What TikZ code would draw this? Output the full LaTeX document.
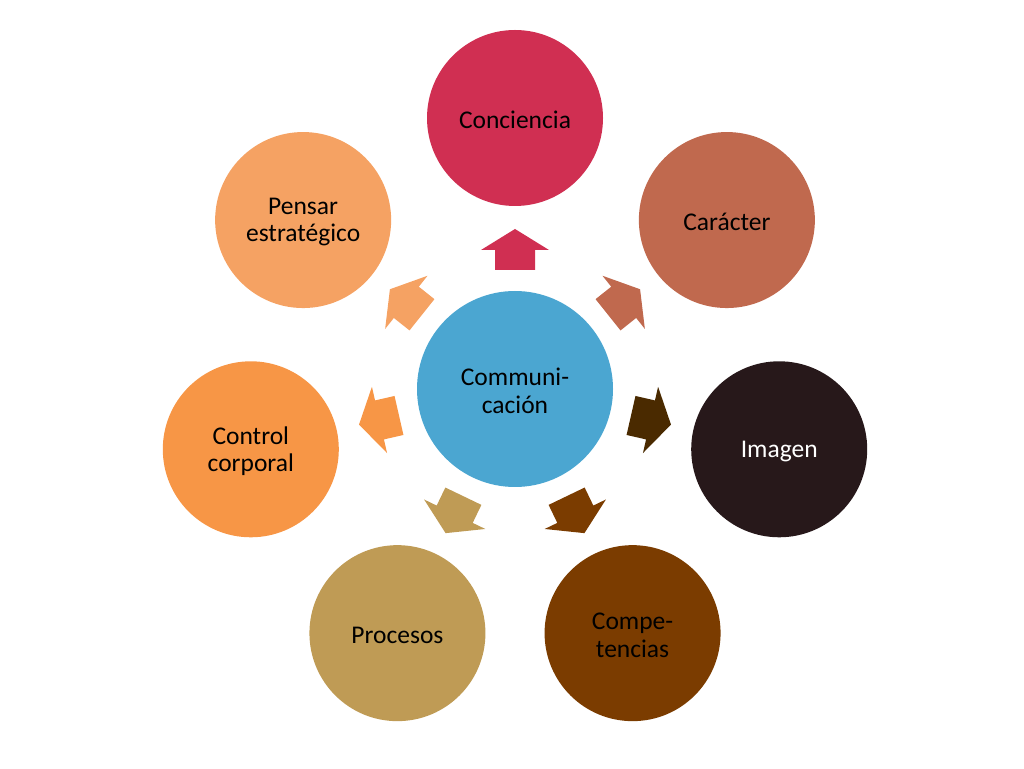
\documentclass[tikz,border=0pt]{standalone}
\usepackage{fontspec}
\setmainfont{Carlito}
\usetikzlibrary{calc}
\definecolor{cCon}{RGB}{208,47,82}
\definecolor{cCar}{RGB}{192,105,78}
\definecolor{cIma}{RGB}{39,24,26}
\definecolor{cImaA}{RGB}{74,42,0}
\definecolor{cCom}{RGB}{123,60,0}
\definecolor{cPro}{RGB}{191,155,85}
\definecolor{cCtl}{RGB}{247,150,70}
\definecolor{cPen}{RGB}{245,162,99}
\definecolor{cCen}{RGB}{75,166,209}
\begin{document}
\begin{tikzpicture}[x=1pt,y=1pt,
  bub/.style={circle,minimum size=176pt,inner sep=0pt},
  ctr/.style={circle,minimum size=196pt,inner sep=0pt,fill=cCen},
  lbl/.style={inner sep=0pt,align=center,font=\fontsize{25.5}{27.5}\selectfont,text=black}]
\useasboundingbox (0,0) rectangle (1024,768);
\coordinate (C) at (515,379);
\node[ctr] (center) at (C) {};
\node[bub,fill=cCon] (n1) at ($(C)+(90:271)$) {};
\node[bub,fill=cCar] (n2) at ($(C)+(38.571:271)$) {};
\node[bub,fill=cIma] (n3) at ($(C)+(-12.857:271)$) {};
\node[bub,fill=cCom] (n4) at ($(C)+(-64.286:271)$) {};
\node[bub,fill=cPro] (n5) at ($(C)+(-115.714:271)$) {};
\node[bub,fill=cCtl] (n6) at ($(C)+(-167.143:271)$) {};
\node[bub,fill=cPen] (n7) at ($(C)+(141.429:271)$) {};
\node[lbl] (t0) at ([yshift=-2pt]center.center) {Communi-\\cación};
\node[lbl] (t1) at ([yshift=-2pt]n1.center) {Conciencia};
\node[lbl] (t2) at ([yshift=-2pt]n2.center) {Carácter};
\node[lbl,text=white] (t3) at ([yshift=-2pt]n3.center) {Imagen};
\node[lbl] (t4) at ([yshift=-2pt]n4.center) {Compe-\\tencias};
\node[lbl] (t5) at ([yshift=-2pt]n5.center) {Procesos};
\node[lbl] (t6) at ([yshift=-2pt]n6.center) {Control\\corporal};
\node[lbl] (t7) at ([yshift=-2pt]n7.center) {Pensar\\estratégico};
\foreach \a/\c in {90/cCon,38.571/cCar,-12.857/cImaA,-64.286/cCom,-115.714/cPro,-167.143/cCtl,141.429/cPen}{
  \begin{scope}[shift={(C)},rotate=\a]
    \fill[\c] (119,-20) -- (139,-20) -- (139,-34) -- (160,0) -- (139,34) -- (139,20) -- (119,20) -- cycle;
  \end{scope}
}
\end{tikzpicture}
\end{document}
